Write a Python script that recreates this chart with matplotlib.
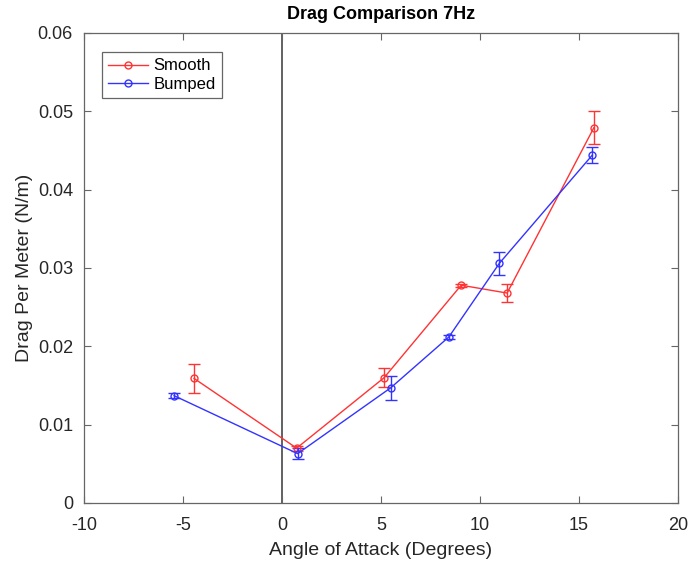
import matplotlib
matplotlib.use('Agg')
import matplotlib.pyplot as plt

# angle of attack (deg) and drag per meter (N/m)
aoa_smooth = [-4.44, 0.74, 5.16, 9.05, 11.37, 15.75]
drag_smooth = [0.0159, 0.0070, 0.0160, 0.0278, 0.0268, 0.0479]
err_smooth = [0.0019, 0.0003, 0.0012, 0.0002, 0.0012, 0.0021]

aoa_bumped = [-5.45, 0.79, 5.49, 8.43, 10.98, 15.67]
drag_bumped = [0.0137, 0.0063, 0.0147, 0.0212, 0.0306, 0.0444]
err_bumped = [0.0003, 0.0007, 0.0015, 0.0003, 0.0015, 0.0010]

xticks = [-10, -5, 0, 5, 10, 15, 20]
yticks = [0, 0.01, 0.02, 0.03, 0.04, 0.05, 0.06]

plt.rcParams['font.family'] = ['Liberation Sans', 'DejaVu Sans']

fig = plt.figure(figsize=(6.89, 5.63), dpi=100)
ax = fig.add_axes([0.1219, 0.1066, 0.8621, 0.8348])

ax.axvline(0, color='#555555', lw=1.3, zorder=1)

ax.errorbar(aoa_smooth, drag_smooth, yerr=err_smooth, color='#ff3333', lw=1,
            marker='o', mfc='none', ms=5, capsize=4, elinewidth=1)
ax.errorbar(aoa_bumped, drag_bumped, yerr=err_bumped, color='#3333ff', lw=1,
            marker='o', mfc='none', ms=5, capsize=4, elinewidth=1)
# legend handles: line + marker only
ax.plot([], [], color='#ff3333', lw=1, marker='o', mfc='none', ms=5, label='Smooth')
ax.plot([], [], color='#3333ff', lw=1, marker='o', mfc='none', ms=5, label='Bumped')

ax.set_xlim(-10, 20)
ax.set_ylim(0, 0.06)
ax.set_xticks(xticks)
ax.set_xticklabels([str(t) for t in xticks])
ax.set_yticks(yticks)
ax.set_yticklabels(['0', '0.01', '0.02', '0.03', '0.04', '0.05', '0.06'])
ax.tick_params(direction='in', top=True, right=True, labelsize=13,
               labelcolor='#262626', color='#666666', length=5)
ax.tick_params(axis='x', pad=10)
ax.tick_params(axis='y', pad=8)
for s in ax.spines.values():
    s.set_color('#666666')
    s.set_linewidth(0.9)

ax.set_xlabel('Angle of Attack (Degrees)', fontsize=14, color='#262626', labelpad=6)
ax.set_ylabel('Drag Per Meter (N/m)', fontsize=14, color='#262626', labelpad=3)
ax.set_title('Drag Comparison 7Hz', fontsize=13, fontweight='bold', pad=10)

leg = ax.legend(loc='upper left', bbox_to_anchor=(0.03, 0.96), fontsize=12,
                fancybox=False, edgecolor='#666666', framealpha=1,
                borderaxespad=0, handlelength=2.4, handletextpad=0.3,
                labelspacing=0.2, borderpad=0.4)
leg.get_frame().set_linewidth(0.9)

fig.savefig('out.png', dpi=100)
